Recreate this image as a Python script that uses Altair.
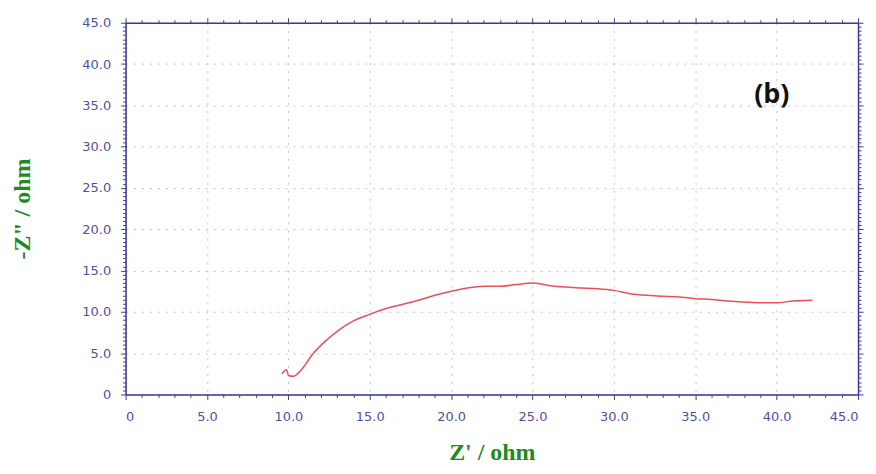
import altair as alt
import pandas as pd

# Nyquist curve (Z', -Z'')
z_re = [9.6, 9.9, 10.0, 10.3, 10.8, 11.5, 12.3, 13.1, 14.0, 15.0, 16.0, 17.0, 18.0, 19.0, 20.0,
        21.0, 22.0, 23.0, 24.0, 25.0, 26.0, 27.0, 28.0, 29.0, 30.0, 31.0, 32.0, 33.0, 34.0,
        35.0, 36.0, 37.0, 38.0, 39.0, 40.0, 41.0, 42.2]
z_im = [2.5, 3.0, 2.3, 2.2, 3.0, 4.9, 6.5, 7.8, 8.9, 9.7, 10.4, 10.9, 11.4, 12.0, 12.5,
        12.9, 13.1, 13.1, 13.3, 13.5, 13.2, 13.0, 12.9, 12.8, 12.6, 12.2, 12.0, 11.9, 11.8,
        11.6, 11.5, 11.3, 11.2, 11.1, 11.1, 11.3, 11.4]

x_ticks = [i * 1.0 for i in range(0, 46)]
y_ticks = [i * 0.5 for i in range(0, 91)]

label_txt = ["(b)"]
label_x = [39.7]
label_y = [36.3]

AX = "#3a3a9a"
LAB = "#5050a8"
GREEN = "#1f8a1f"

df = pd.DataFrame({"x": z_re, "y": z_im, "order": list(range(len(z_re)))})
lab = pd.DataFrame({"t": label_txt, "x": label_x, "y": label_y})

xscale = alt.Scale(domain=[0, 45], nice=False)
yscale = alt.Scale(domain=[0, 45], nice=False)

major_test = "abs(datum.value % 5) < 0.001"
lab_expr = f"{major_test} ? (datum.value == 0 ? '0' : format(datum.value, '.1f')) : ''"

common = dict(
    domainColor=AX, domainWidth=1.5, tickColor=AX,
    tickWidth=1,
    tickSize={"condition": {"test": major_test, "value": 5}, "value": 3},
    labelOverlap=False,
)

x_axis = alt.Axis(
    values=x_ticks, labelExpr=lab_expr, labelColor=LAB, labelFont="DejaVu Sans",
    labelFontSize=13, labelPadding=11, grid=True, gridColor="#c4c4c4", gridDash=[2, 6],
    gridOpacity={"condition": {"test": major_test, "value": 1}, "value": 0},
    title="Z' / ohm", titleFont="Liberation Serif", titleFontSize=24, titleFontWeight="bold",
    titleColor=GREEN, titlePadding=17, **common)

y_axis = alt.Axis(
    values=y_ticks, labelExpr=lab_expr, labelColor=LAB, labelFont="DejaVu Sans",
    labelFontSize=13, labelPadding=10, grid=True, gridColor="#c4c4c4", gridDash=[2, 6],
    gridOpacity={"condition": {"test": major_test, "value": 1}, "value": 0},
    title='-Z" / ohm', titleFont="Liberation Serif", titleFontSize=24, titleFontWeight="bold",
    titleColor=GREEN, titlePadding=47, **common)

line = alt.Chart(df).mark_line(color="#e8505a", strokeWidth=1.5, interpolate="monotone").encode(
    x=alt.X("x:Q", scale=xscale, axis=x_axis),
    y=alt.Y("y:Q", scale=yscale, axis=y_axis),
    order="order:Q",
)

x_top = alt.Axis(orient="top", values=x_ticks, labels=False, grid=False, title=None, **common)
y_right = alt.Axis(orient="right", values=y_ticks, labels=False, grid=False, title=None, **common)

frame = alt.Chart(lab).mark_text(
    font="Open Sans", fontWeight="bold", fontSize=27, color="#111111",
    align="center", baseline="middle",
).encode(
    x=alt.X("x:Q", scale=xscale, axis=x_top),
    y=alt.Y("y:Q", scale=yscale, axis=y_right),
    text="t:N",
)

chart = alt.layer(line, frame).resolve_axis(x="independent", y="independent").properties(
    width=735, height=373,
    autosize=alt.AutoSizeParams(type="none"),
    padding={"left": 118, "top": 14, "right": 10, "bottom": 71},
).configure_view(stroke=None).configure(background="white")

chart.save("out.html", embed_options={"renderer": "svg", "actions": False})
